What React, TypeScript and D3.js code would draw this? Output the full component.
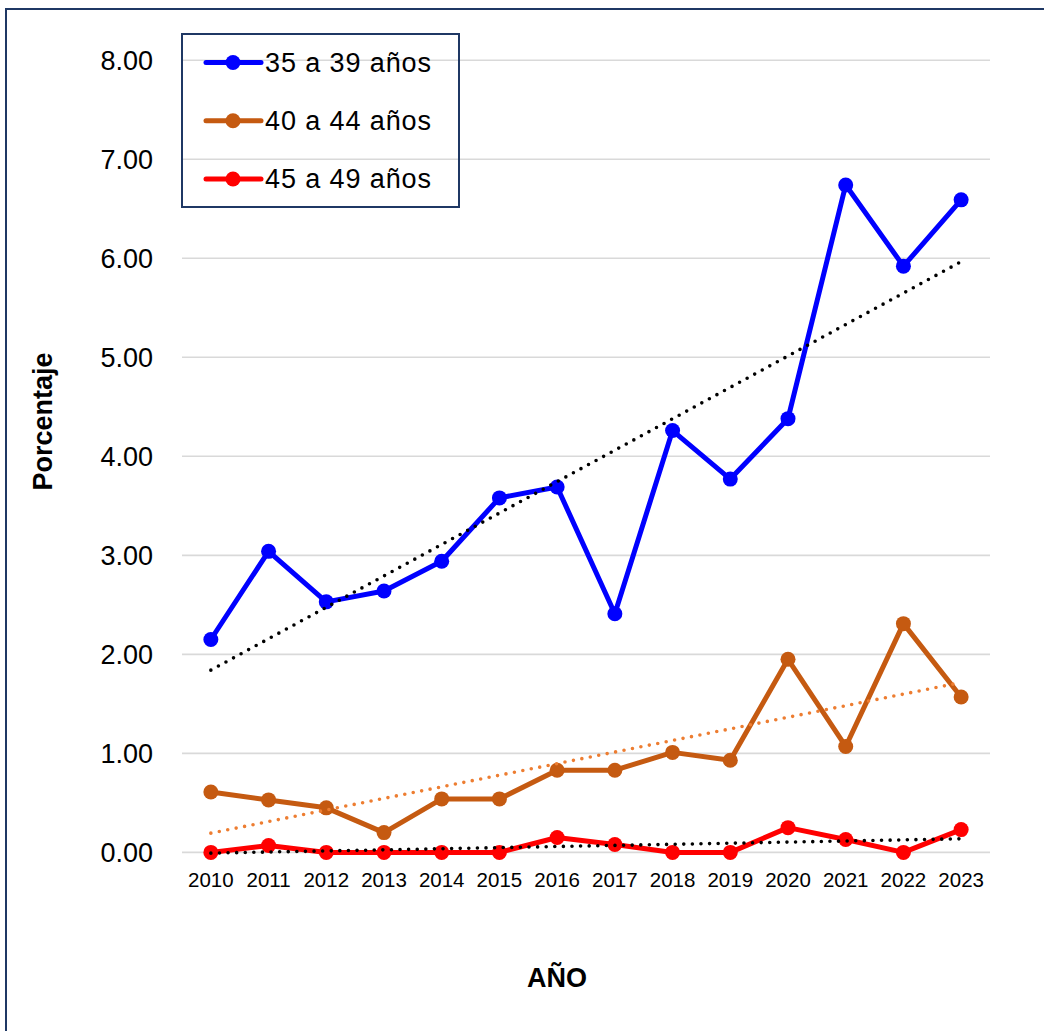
import React from "react";
import * as d3 from "d3";

const years = ["2010","2011","2012","2013","2014","2015","2016","2017","2018","2019","2020","2021","2022","2023"];
const serie35 = [2.15, 3.04, 2.53, 2.64, 2.94, 3.58, 3.69, 2.41, 4.26, 3.77, 4.38, 6.74, 5.92, 6.59];
const serie40 = [0.61, 0.53, 0.45, 0.20, 0.54, 0.54, 0.83, 0.83, 1.01, 0.93, 1.95, 1.07, 2.31, 1.57];
const serie45 = [0.00, 0.07, 0.00, 0.00, 0.00, 0.00, 0.15, 0.08, 0.00, 0.00, 0.25, 0.13, 0.00, 0.23];
const yTicks = [0, 1, 2, 3, 4, 5, 6, 7, 8];
const seriesNames = ["35 a 39 años", "40 a 44 años", "45 a 49 años"];

const W = 1044, H = 1031;
const FONT = "Liberation Sans, Arial, sans-serif";
const NAVY = "#1F3864";

function trend(vals: number[]) {
  const n = vals.length;
  const xs = vals.map((_, i) => i);
  const mx = d3.mean(xs) as number;
  const my = d3.mean(vals) as number;
  let sxy = 0, sxx = 0;
  xs.forEach((x, i) => { sxy += (x - mx) * (vals[i] - my); sxx += (x - mx) ** 2; });
  const b = sxy / sxx;
  const a = my - b * mx;
  return [a, a + b * (n - 1)];
}

export default function App() {
  const x = d3.scaleBand().domain(years).range([182, 990]);
  const cx = (y: string) => (x(y) as number) + x.bandwidth() / 2;
  const y = d3.scaleLinear().domain([0, 8]).range([852.4, 60.2]);
  const line = d3.line<number>().x((_, i) => cx(years[i])).y(v => y(v));

  const series = [
    { name: seriesNames[0], vals: serie35, color: "#0000FF", trendColor: "#000000" },
    { name: seriesNames[1], vals: serie40, color: "#C55A11", trendColor: "#ED7D31" },
    { name: seriesNames[2], vals: serie45, color: "#FF0000", trendColor: "#000000" },
  ];

  return (
    <svg width={W} height={H} style={{ position: "absolute", left: 0, top: 0, background: "#fff" }} fontFamily={FONT}>
      <rect x={0} y={0} width={W} height={H} fill="#fff" />
      <rect x={6} y={9} width={W + 20} height={H + 20} fill="none" stroke={NAVY} strokeWidth={2} />
      {yTicks.map(t => (
        <g key={t}>
          <line x1={182} x2={990} y1={y(t)} y2={y(t)} stroke="#D9D9D9" strokeWidth={1.6} />
          <text x={153} y={y(t)} dy="0.35em" textAnchor="end" fontSize={27} fill="#000">{t.toFixed(2)}</text>
        </g>
      ))}
      {years.map(yr => (
        <text key={yr} x={cx(yr)} y={887} textAnchor="middle" fontSize={20.5} fill="#000">{yr}</text>
      ))}
      {series.map(s => (
        <g key={s.name}>
          <path d={line(s.vals) as string} fill="none" stroke={s.color} strokeWidth={5} strokeLinejoin="round" />
          {s.vals.map((v, i) => (
            <circle key={i} cx={cx(years[i])} cy={y(v)} r={7.5} fill={s.color} />
          ))}
        </g>
      ))}
      {series.map(s => {
        const [a, b] = trend(s.vals);
        return (
          <line key={"t" + s.name} x1={cx(years[0])} y1={y(a)} x2={cx(years[years.length - 1])} y2={y(b)}
            stroke={s.trendColor} strokeWidth={3.6} strokeLinecap="round" strokeDasharray="0 8.6" />
        );
      })}
      <rect x={182} y={34} width={277} height={173} fill="none" stroke={NAVY} strokeWidth={2} />
      {series.map((s, i) => {
        const ly = [62.5, 120.7, 179][i];
        return (
          <g key={"l" + s.name}>
            <line x1={206} x2={261} y1={ly} y2={ly} stroke={s.color} strokeWidth={5} strokeLinecap="round" />
            <circle cx={233} cy={ly} r={7.5} fill={s.color} />
            <text x={265} y={ly} dy="0.35em" fontSize={27} letterSpacing={0.9} fill="#000">{s.name}</text>
          </g>
        );
      })}
      <text transform="translate(52,421.5) rotate(-90)" textAnchor="middle" fontSize={27} fontWeight="bold" fill="#000">Porcentaje</text>
      <text x={557} y={987} textAnchor="middle" fontSize={27} fontWeight="bold" fill="#000">AÑO</text>
    </svg>
  );
}
